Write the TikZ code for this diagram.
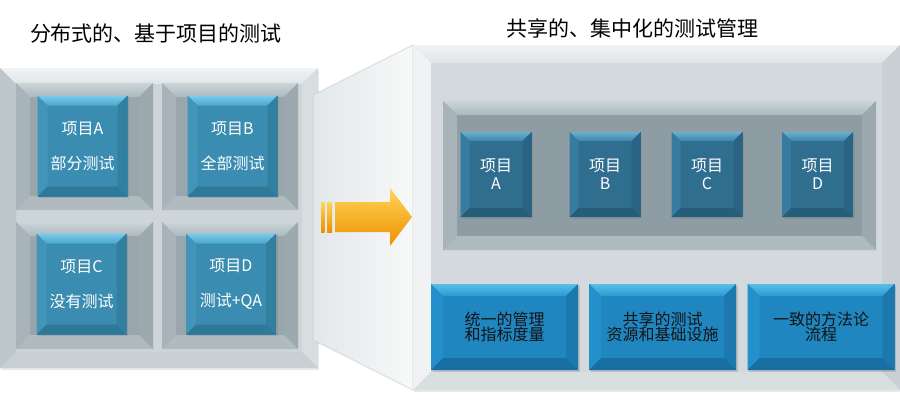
\documentclass[tikz,border=0pt]{standalone}
\usepackage{fontspec}
\setmainfont{Noto Sans CJK SC}
\usetikzlibrary{shadows}

% panels
\definecolor{panelface}{HTML}{CDD5D8}
\definecolor{paneltopa}{HTML}{F0F3F4}
\definecolor{paneltopb}{HTML}{DEE4E6}
\definecolor{panelleft}{HTML}{BEC8CC}
\definecolor{panelright}{HTML}{D8DEE0}
\definecolor{panelbottom}{HTML}{C8D0D3}
\definecolor{rpanelface}{HTML}{D3D9DC}
\definecolor{rpanelleft}{HTML}{F0F2F3}
\definecolor{rpanelright}{HTML}{C8D0D3}
\definecolor{rpanelbottom}{HTML}{D9DFE1}
% recessed cells
\definecolor{cellface}{HTML}{99A7AC}
\definecolor{celltopa}{HTML}{CCD5D8}
\definecolor{celltopb}{HTML}{ACB9BE}
\definecolor{cellleft}{HTML}{A8B4B9}
\definecolor{cellright}{HTML}{9CA9AE}
\definecolor{cellbottom}{HTML}{B0BBBF}
\definecolor{rowface}{HTML}{8E9DA3}
% blue boxes
\definecolor{sqface}{HTML}{3A8CB0}
\definecolor{sqtopa}{HTML}{7ACDEA}
\definecolor{sqtopb}{HTML}{4BA6CB}
\definecolor{sqleft}{HTML}{4295B9}
\definecolor{sqright}{HTML}{327F9F}
\definecolor{sqbottom}{HTML}{2E7898}
\definecolor{projface}{HTML}{306E8F}
\definecolor{projtopa}{HTML}{6AAFD0}
\definecolor{projtopb}{HTML}{3E84A8}
\definecolor{projleft}{HTML}{387BA0}
\definecolor{projright}{HTML}{2A6383}
\definecolor{projbottom}{HTML}{265D7B}
\definecolor{baseface}{HTML}{1F86C0}
\definecolor{basetopa}{HTML}{5BBDE8}
\definecolor{basetopb}{HTML}{2A9AD3}
\definecolor{baseleft}{HTML}{2390CB}
\definecolor{baseright}{HTML}{1C78AD}
\definecolor{basebottom}{HTML}{186FA2}
% projection and arrow
\definecolor{trapl}{HTML}{E2E7E9}
\definecolor{trapr}{HTML}{F8F9F9}
\definecolor{trapline}{HTML}{C8CFD2}
\definecolor{arrowtop}{HTML}{FFD659}
\definecolor{arrowmid}{HTML}{F9B127}
\definecolor{arrowbot}{HTML}{EE8F00}
\definecolor{basetext}{HTML}{141414}

\tikzset{
  % bevel: size, top colour (upper), top colour (lower), left, right, bottom
  bevel/.style n args={6}{path picture={
    \coordinate (bnw) at (path picture bounding box.north west);
    \coordinate (bne) at (path picture bounding box.north east);
    \coordinate (bse) at (path picture bounding box.south east);
    \coordinate (bsw) at (path picture bounding box.south west);
    \coordinate (inw) at ([shift={(#1,#1)}]bnw);
    \coordinate (ine) at ([shift={(-#1,#1)}]bne);
    \coordinate (ise) at ([shift={(-#1,-#1)}]bse);
    \coordinate (isw) at ([shift={(#1,-#1)}]bsw);
    \shade[top color=#2, bottom color=#3] (bnw) -- (bne) -- (ine) -- (inw) -- cycle;
    \fill[#4] (bnw) -- (inw) -- (isw) -- (bsw) -- cycle;
    \fill[#5] (bne) -- (ine) -- (ise) -- (bse) -- cycle;
    \fill[#6] (bsw) -- (isw) -- (ise) -- (bse) -- cycle;
  }},
  panel/.style={rectangle, inner sep=0, fill=panelface,
    drop shadow={opacity=.18, shadow xshift=1pt, shadow yshift=-2pt},
    bevel={16}{paneltopa}{paneltopb}{panelleft}{panelright}{panelbottom}},
  rpanel/.style={rectangle, inner sep=0, fill=rpanelface,
    drop shadow={opacity=.18, shadow xshift=1pt, shadow yshift=-2pt},
    bevel={18}{paneltopa}{paneltopb}{rpanelleft}{rpanelright}{rpanelbottom}},
  cell/.style={rectangle, inner sep=0, fill=cellface,
    bevel={14}{celltopa}{celltopb}{cellleft}{cellright}{cellbottom}},
  bluesq/.style={rectangle, inner sep=0, minimum width=90, minimum height=101,
    fill=sqface, text=white, align=center,
    font=\fontsize{16}{35}\selectfont,
    drop shadow={opacity=.3, shadow xshift=1.5pt, shadow yshift=-1.5pt},
    bevel={10}{sqtopa}{sqtopb}{sqleft}{sqright}{sqbottom}},
  projbox/.style={rectangle, inner sep=0, minimum width=71, minimum height=85,
    fill=projface, text=white, align=center,
    font=\fontsize{16}{18}\selectfont,
    drop shadow={opacity=.3, shadow xshift=1.5pt, shadow yshift=-1.5pt},
    bevel={9}{projtopa}{projtopb}{projleft}{projright}{projbottom}},
  basebox/.style={rectangle, inner sep=0, minimum width=147, minimum height=86,
    fill=baseface, text=basetext, align=center,
    font=\fontsize{16}{15}\selectfont,
    drop shadow={opacity=.3, shadow xshift=1.5pt, shadow yshift=-1.5pt},
    bevel={12}{basetopa}{basetopb}{baseleft}{baseright}{basebottom}},
  title/.style={font=\fontsize{21}{25}\selectfont, text=black}
}

\begin{document}
\begin{tikzpicture}[x=1pt, y=-1pt]
\useasboundingbox[fill=white] (0,0) rectangle (900,402);

\node[title] (lefttitle) at (156,34) {分布式的、基于项目的测试};
\node[title] (righttitle) at (632,28) {共享的、集中化的测试管理};

% left side: one panel, four cells
\node[panel, minimum width=318, minimum height=300] (leftpanel) at (159,218) {};
\node[cell, minimum width=137, minimum height=127] (cellA) at (84.5,146.5) {};
\node[cell, minimum width=136, minimum height=127] (cellB) at (230,146.5) {};
\node[cell, minimum width=137, minimum height=127] (cellC) at (84.5,285.5) {};
\node[cell, minimum width=136, minimum height=127] (cellD) at (230,285.5) {};

\node[bluesq] (sqA) at (82.5,146) {项目A\\部分测试};
\node[bluesq] (sqB) at (232.5,146) {项目B\\全部测试};
\node[bluesq] (sqC) at (81.5,284) {项目C\\没有测试};
\node[bluesq] (sqD) at (231,284) {项目D\\测试+QA};

% projection between the two panels
\shade[left color=trapl, right color=trapr, draw=trapline, line width=.6pt]
  (313,95) -- (413,45) -- (413,390) -- (313,340) -- cycle;

% arrow
\shade[top color=arrowtop, middle color=arrowmid, bottom color=arrowbot]
  (335,202) -- (390,202) -- (390,188) -- (412,217) -- (390,246) -- (390,232) -- (335,232) -- cycle;
\shade[top color=arrowtop, bottom color=arrowbot] (321,202) rectangle (324.5,232);
\shade[top color=arrowtop, bottom color=arrowbot] (327,202) rectangle (332,232);

% right side
\node[rpanel, minimum width=487, minimum height=345] (rightpanel) at (656.5,217.5) {};
\node[cell, minimum width=433, minimum height=149, fill=rowface] (projrow) at (659.5,175.5) {};

\foreach \x/\l in {496/A,605/B,707/C,817.5/D}
  \node[projbox] (proj\l) at (\x,174.5) {项目\\\l};

\node[basebox] (mgmt) at (504.5,327) {统一的管理\\和指标度量};
\node[basebox] (infra) at (662.5,327) {共享的测试\\资源和基础设施};
\node[basebox] (method) at (821,327) {一致的方法论\\流程};
\end{tikzpicture}
\end{document}
